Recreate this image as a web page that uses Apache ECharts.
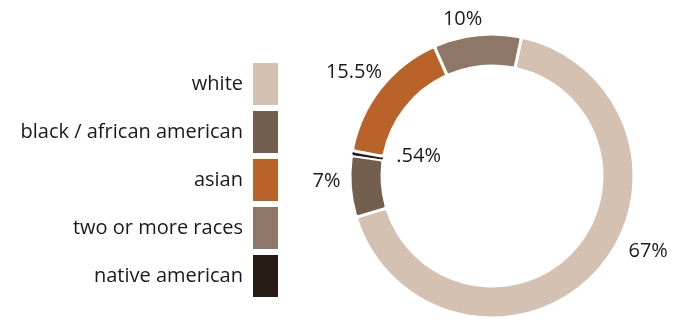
<!DOCTYPE html>
<html>
<head>
<meta charset="utf-8">
<script src="https://cdn.jsdelivr.net/npm/echarts@6/dist/echarts.min.js"></script>
<style>
  html, body { margin: 0; padding: 0; background: #ffffff; }
  #chart { width: 673px; height: 321px; }
</style>
</head>
<body>
<div id="chart"></div>
<script>
// Share of population by race, drawn clockwise
const categories = ['white', 'black / african american', 'native american', 'asian', 'two or more races'];
const shares = [67, 7, 0.54, 15.5, 10];
const shareLabels = ['67%', '7%', '.54%', '15.5%', '10%'];
const legendOrder = ['white', 'black / african american', 'asian', 'two or more races', 'native american'];

const colors = {
  'white': '#d5c1b1',
  'black / african american': '#745f4f',
  'native american': '#271b15',
  'asian': '#b9632b',
  'two or more races': '#8e7767'
};

// label nudges relative to the default outside placement
const labelNudge = {
  'white': [24, -26],
  'black / african american': [0, -6],
  'asian': [10, -11],
  'two or more races': [8, -8]
};

const pieData = categories.map((name, i) => {
  const item = {
    name: name,
    value: shares[i],
    itemStyle: { color: colors[name] }
  };
  if (name === 'native american') {
    // thin sliver: keep its own white edge narrow so it stays visible
    item.itemStyle.borderWidth = 1;
    item.label = { position: 'inside', offset: [54, 1], color: '#1a1a1a' };
  } else {
    item.label = { offset: labelNudge[name] };
  }
  return item;
});

const chart = echarts.init(document.getElementById('chart'), null, { renderer: 'canvas' });
chart.setOption({
  animation: false,
  backgroundColor: '#ffffff',
  legend: {
    data: legendOrder,
    orient: 'vertical',
    right: 390,
    top: 58,
    align: 'right',
    icon: 'rect',
    itemWidth: 25,
    itemHeight: 42,
    itemGap: 6,
    selectedMode: false,
    itemStyle: { borderWidth: 0 },
    textStyle: {
      fontFamily: 'Open Sans',
      fontSize: 20,
      color: '#1a1a1a',
      padding: [0, 5, 0, 0]
    }
  },
  series: [{
    type: 'pie',
    center: [492, 176],
    radius: [110, 142],
    startAngle: 78,
    clockwise: true,
    avoidLabelOverlap: false,
    silent: true,
    itemStyle: { borderColor: '#ffffff', borderWidth: 3, borderRadius: 3 },
    label: {
      show: true,
      position: 'outside',
      formatter: (p) => shareLabels[p.dataIndex],
      fontFamily: 'Open Sans',
      fontSize: 20,
      color: '#1a1a1a',
      distanceToLabelLine: 2
    },
    labelLine: { show: false, length: 8, length2: 0 },
    data: pieData
  }]
});
</script>
</body>
</html>
